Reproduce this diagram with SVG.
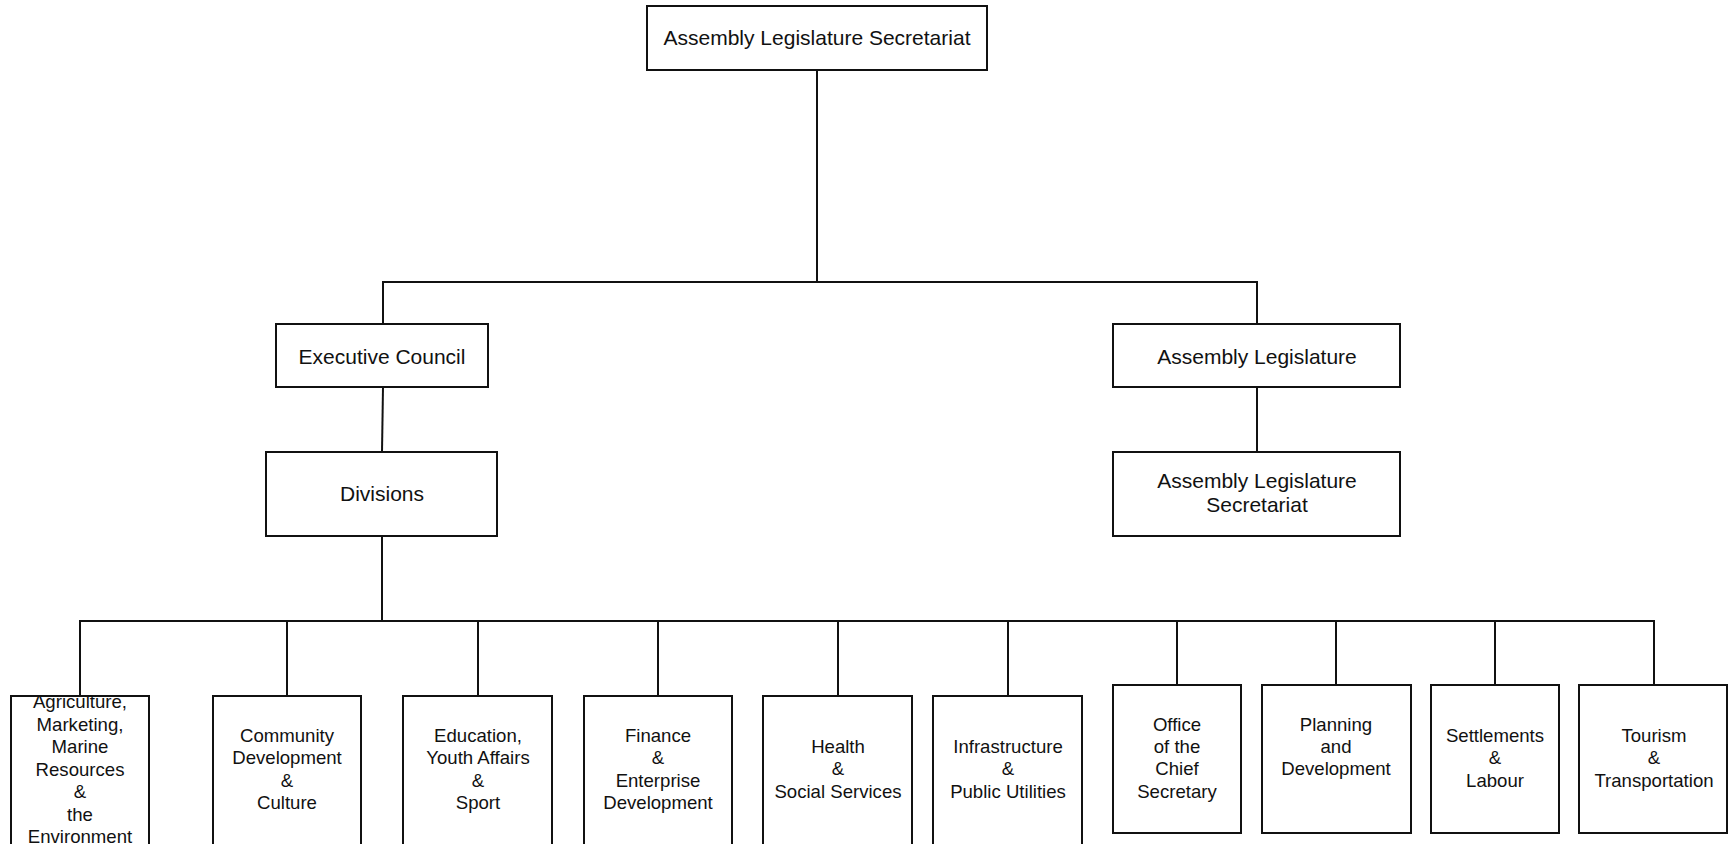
<svg xmlns="http://www.w3.org/2000/svg" width="1728" height="844" viewBox="0 0 1728 844">
  <style>
    .box { fill: #ffffff; stroke: #111111; stroke-width: 2; }
    .link { fill: none; stroke: #111111; stroke-width: 2; }
    .lbl { font-family: "Liberation Sans", Arial, sans-serif; font-size: 21px; fill: #111111; text-anchor: middle; }
    .sm { font-family: "Liberation Sans", Arial, sans-serif; font-size: 18.6px; fill: #111111; text-anchor: middle; }
  </style>
  <rect width="1728" height="844" fill="#ffffff"/>

  <!-- connectors -->
  <g id="connectors">
    <path class="link" d="M817 70 V282"/>
    <path class="link" d="M383 324 V282 H1257 V324"/>
    <path class="link" d="M383 387 L382 452"/>
    <path class="link" d="M1257 387 V452"/>
    <path class="link" d="M382 536 V621"/>
    <path class="link" d="M80 696 V621 H1654 V685"/>
    <path class="link" d="M287 621 V696"/>
    <path class="link" d="M478 621 V696"/>
    <path class="link" d="M658 621 V696"/>
    <path class="link" d="M838 621 V696"/>
    <path class="link" d="M1008 621 V696"/>
    <path class="link" d="M1177 621 V685"/>
    <path class="link" d="M1336 621 V685"/>
    <path class="link" d="M1495 621 V685"/>
  </g>

  <!-- upper levels -->
  <g id="node-top-secretariat">
    <rect class="box" x="647" y="6" width="340" height="64"/>
    <text class="lbl" x="817" y="45">Assembly Legislature Secretariat</text>
  </g>
  <g id="node-executive-council">
    <rect class="box" x="276" y="324" width="212" height="63"/>
    <text class="lbl" x="382" y="364">Executive Council</text>
  </g>
  <g id="node-assembly-legislature">
    <rect class="box" x="1113" y="324" width="287" height="63"/>
    <text class="lbl" x="1257" y="364">Assembly Legislature</text>
  </g>
  <g id="node-divisions">
    <rect class="box" x="266" y="452" width="231" height="84"/>
    <text class="lbl" x="382" y="501">Divisions</text>
  </g>
  <g id="node-legislature-secretariat">
    <rect class="box" x="1113" y="452" width="287" height="84"/>
    <text class="lbl" x="1257" y="488">Assembly Legislature</text>
    <text class="lbl" x="1257" y="512">Secretariat</text>
  </g>

  <!-- divisions -->
  <g id="node-agriculture">
    <rect class="box" x="11" y="696" width="138" height="151"/>
    <text class="sm" x="80" y="708">Agriculture,</text>
    <text class="sm" x="80" y="731">Marketing,</text>
    <text class="sm" x="80" y="753">Marine</text>
    <text class="sm" x="80" y="776">Resources</text>
    <text class="sm" x="80" y="798">&amp;</text>
    <text class="sm" x="80" y="821">the</text>
    <text class="sm" x="80" y="843">Environment</text>
  </g>
  <g id="node-community">
    <rect class="box" x="213" y="696" width="148" height="151"/>
    <text class="sm" x="287" y="742">Community</text>
    <text class="sm" x="287" y="764">Development</text>
    <text class="sm" x="287" y="787">&amp;</text>
    <text class="sm" x="287" y="809">Culture</text>
  </g>
  <g id="node-education">
    <rect class="box" x="403" y="696" width="149" height="151"/>
    <text class="sm" x="478" y="742">Education,</text>
    <text class="sm" x="478" y="764">Youth Affairs</text>
    <text class="sm" x="478" y="787">&amp;</text>
    <text class="sm" x="478" y="809">Sport</text>
  </g>
  <g id="node-finance">
    <rect class="box" x="584" y="696" width="148" height="151"/>
    <text class="sm" x="658" y="742">Finance</text>
    <text class="sm" x="658" y="764">&amp;</text>
    <text class="sm" x="658" y="787">Enterprise</text>
    <text class="sm" x="658" y="809">Development</text>
  </g>
  <g id="node-health">
    <rect class="box" x="763" y="696" width="149" height="151"/>
    <text class="sm" x="838" y="753">Health</text>
    <text class="sm" x="838" y="775">&amp;</text>
    <text class="sm" x="838" y="798">Social Services</text>
  </g>
  <g id="node-infrastructure">
    <rect class="box" x="933" y="696" width="149" height="151"/>
    <text class="sm" x="1008" y="753">Infrastructure</text>
    <text class="sm" x="1008" y="775">&amp;</text>
    <text class="sm" x="1008" y="798">Public Utilities</text>
  </g>
  <g id="node-chief-secretary">
    <rect class="box" x="1113" y="685" width="128" height="148"/>
    <text class="sm" x="1177" y="731">Office</text>
    <text class="sm" x="1177" y="753">of the</text>
    <text class="sm" x="1177" y="775">Chief</text>
    <text class="sm" x="1177" y="798">Secretary</text>
  </g>
  <g id="node-planning">
    <rect class="box" x="1262" y="685" width="149" height="148"/>
    <text class="sm" x="1336" y="731">Planning</text>
    <text class="sm" x="1336" y="753">and</text>
    <text class="sm" x="1336" y="775">Development</text>
  </g>
  <g id="node-settlements">
    <rect class="box" x="1431" y="685" width="128" height="148"/>
    <text class="sm" x="1495" y="742">Settlements</text>
    <text class="sm" x="1495" y="764">&amp;</text>
    <text class="sm" x="1495" y="787">Labour</text>
  </g>
  <g id="node-tourism">
    <rect class="box" x="1579" y="685" width="148" height="148"/>
    <text class="sm" x="1654" y="742">Tourism</text>
    <text class="sm" x="1654" y="764">&amp;</text>
    <text class="sm" x="1654" y="787">Transportation</text>
  </g>
</svg>
